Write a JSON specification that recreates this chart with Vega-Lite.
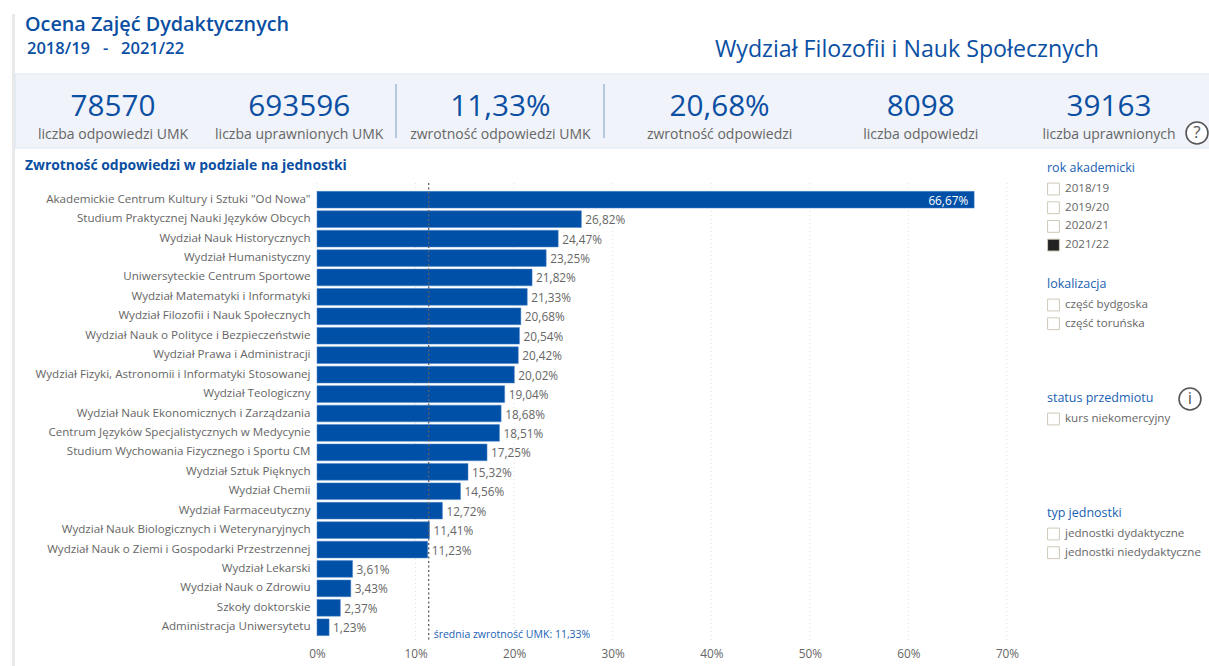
{
"$schema":"https://vega.github.io/schema/vega-lite/v6.json",
"width":1209,"height":666,"padding":0,"autosize":"none","background":"white",
"config":{"font":"Open Sans","view":{"stroke":null},"text":{"font":"Open Sans"},"legend":{"orient":"none"}},
"resolve":{"scale":{"x":"independent","y":"independent","fill":"independent"},"axis":{"x":"independent","y":"independent"},"legend":{"fill":"independent"}},
"layer":[
{"data":{"values":[{"zone":"strip"}]},"mark":{"type":"rect","fill":"#e9e9e9"},
 "encoding":{"x":{"datum":0,"type":"quantitative","axis":null,"scale":{"domain":[0,1],"range":[12,15],"zero":false,"nice":false}},"x2":{"datum":1},
 "y":{"datum":0,"type":"quantitative","axis":null,"scale":{"domain":[0,1],"range":[14,666],"zero":false,"nice":false}},"y2":{"datum":1}}},
{"data":{"values":[{"zone":"kpi"}]},"mark":{"type":"rect","fill":"#f0f3f9","stroke":"#dce6f3","strokeWidth":1},
 "encoding":{"x":{"datum":0,"type":"quantitative","axis":null,"scale":{"domain":[0,1],"range":[15,1212],"zero":false,"nice":false}},"x2":{"datum":1},
 "y":{"datum":0,"type":"quantitative","axis":null,"scale":{"domain":[0,1],"range":[74,148],"zero":false,"nice":false}},"y2":{"datum":1}}},
{"data":{"values":[{"sep":"umk"},{"sep":"wydzial"}]},"mark":{"type":"rule","stroke":"#7c9fca","strokeWidth":1},
 "encoding":{"x":{"field":"sep","type":"nominal","axis":null,"scale":{"type":"point","domain":["umk","wydzial"],"range":[396,604],"padding":0}},
 "y":{"datum":0,"type":"quantitative","axis":null,"scale":{"domain":[0,1],"range":[84,138],"zero":false,"nice":false}},"y2":{"datum":1}}},
{"data":{"values":[{"t":"Ocena Zajęć Dydaktycznych"}]},"mark":{"type":"text","align":"left","baseline":"middle","fontSize":19.8,"fontWeight":600,"color":"#0b4fa3"},
 "encoding":{"text":{"field":"t"},"x":{"field":"t","type":"nominal","axis":null,"scale":{"range":[25,25],"padding":0}},"y":{"field":"t","type":"nominal","axis":null,"scale":{"range":[25,25],"padding":0}}}},
{"data":{"values":[{"t":"2018/19\u00a0\u00a0 - \u00a0\u00a02021/22"}]},"mark":{"type":"text","align":"left","baseline":"middle","fontSize":16.5,"fontWeight":600,"color":"#0b4fa3"},
 "encoding":{"text":{"field":"t"},"x":{"field":"t","type":"nominal","axis":null,"scale":{"range":[27,27],"padding":0}},"y":{"field":"t","type":"nominal","axis":null,"scale":{"range":[48.5,48.5],"padding":0}}}},
{"data":{"values":[{"t":"Wydział Filozofii i Nauk Społecznych"}]},"mark":{"type":"text","align":"center","baseline":"middle","fontSize":23.2,"color":"#0b4fa3"},
 "encoding":{"text":{"field":"t"},"x":{"field":"t","type":"nominal","axis":null,"scale":{"range":[907,907],"padding":0}},"y":{"field":"t","type":"nominal","axis":null,"scale":{"range":[50,50],"padding":0}}}},
{"data":{"values":[{"t":"Zwrotność odpowiedzi w podziale na jednostki"}]},"mark":{"type":"text","align":"left","baseline":"middle","fontSize":13.9,"fontWeight":700,"color":"#0b4fa3"},
 "encoding":{"text":{"field":"t"},"x":{"field":"t","type":"nominal","axis":null,"scale":{"range":[25,25],"padding":0}},"y":{"field":"t","type":"nominal","axis":null,"scale":{"range":[166,166],"padding":0}}}},
{"data":{"values":[
 {"kpi":"liczba odpowiedzi UMK","value":"78570"},{"kpi":"liczba uprawnionych UMK","value":"693596"},{"kpi":"zwrotność odpowiedzi UMK","value":"11,33%"},
 {"kpi":"zwrotność odpowiedzi","value":"20,68%"},{"kpi":"liczba odpowiedzi","value":"8098"},{"kpi":"liczba uprawnionych","value":"39163"}]},
 "layer":[
 {"mark":{"type":"text","align":"center","baseline":"middle","fontSize":29.7,"color":"#0b4fa3","dx":{"expr":"datum.kpi=='liczba uprawnionych UMK'?-13:datum.kpi=='zwrotność odpowiedzi UMK'?-11:datum.kpi=='zwrotność odpowiedzi'?9:datum.kpi=='liczba odpowiedzi'?11:0"}},
  "encoding":{"text":{"field":"value"},"y":{"datum":"value","type":"nominal"}}},
 {"mark":{"type":"text","align":"center","baseline":"middle","fontSize":14,"color":"#666666","dx":{"expr":"datum.kpi=='liczba uprawnionych UMK'?-13:datum.kpi=='zwrotność odpowiedzi UMK'?-11:datum.kpi=='zwrotność odpowiedzi'?9:datum.kpi=='liczba odpowiedzi'?11:0"}},
  "encoding":{"text":{"field":"kpi"},"y":{"datum":"caption","type":"nominal"}}}],
 "encoding":{"x":{"field":"kpi","type":"nominal","sort":null,"axis":null,"scale":{"range":[113,1109],"padding":0}},
  "y":{"type":"nominal","axis":null,"scale":{"domain":["value","caption"],"range":[106.5,135],"padding":0}}}},
{"data":{"values":[{"tick":0},{"tick":10},{"tick":20},{"tick":30},{"tick":40},{"tick":50},{"tick":60},{"tick":70}]},
 "mark":{"type":"rule","stroke":"#e2e2e2","strokeWidth":1,"strokeDash":[1,3]},
 "encoding":{"x":{"field":"tick","type":"quantitative","axis":null,"scale":{"domain":[0,70],"range":[317,1007],"nice":false,"zero":true}},
  "y":{"datum":0,"type":"quantitative","axis":null,"scale":{"domain":[0,1],"range":[183,640],"zero":false,"nice":false}},"y2":{"datum":1}}},
{"data":{"values":[
 {"unit":"Akademickie Centrum Kultury i Sztuki \"Od Nowa\"","value":66.67,"label":"66,67%"},
 {"unit":"Studium Praktycznej Nauki Języków Obcych","value":26.82,"label":"26,82%"},
 {"unit":"Wydział Nauk Historycznych","value":24.47,"label":"24,47%"},
 {"unit":"Wydział Humanistyczny","value":23.25,"label":"23,25%"},
 {"unit":"Uniwersyteckie Centrum Sportowe","value":21.82,"label":"21,82%"},
 {"unit":"Wydział Matematyki i Informatyki","value":21.33,"label":"21,33%"},
 {"unit":"Wydział Filozofii i Nauk Społecznych","value":20.68,"label":"20,68%"},
 {"unit":"Wydział Nauk o Polityce i Bezpieczeństwie","value":20.54,"label":"20,54%"},
 {"unit":"Wydział Prawa i Administracji","value":20.42,"label":"20,42%"},
 {"unit":"Wydział Fizyki, Astronomii i Informatyki Stosowanej","value":20.02,"label":"20,02%"},
 {"unit":"Wydział Teologiczny","value":19.04,"label":"19,04%"},
 {"unit":"Wydział Nauk Ekonomicznych i Zarządzania","value":18.68,"label":"18,68%"},
 {"unit":"Centrum Języków Specjalistycznych w Medycynie","value":18.51,"label":"18,51%"},
 {"unit":"Studium Wychowania Fizycznego i Sportu CM","value":17.25,"label":"17,25%"},
 {"unit":"Wydział Sztuk Pięknych","value":15.32,"label":"15,32%"},
 {"unit":"Wydział Chemii","value":14.56,"label":"14,56%"},
 {"unit":"Wydział Farmaceutyczny","value":12.72,"label":"12,72%"},
 {"unit":"Wydział Nauk Biologicznych i Weterynaryjnych","value":11.41,"label":"11,41%"},
 {"unit":"Wydział Nauk o Ziemi i Gospodarki Przestrzennej","value":11.23,"label":"11,23%"},
 {"unit":"Wydział Lekarski","value":3.61,"label":"3,61%"},
 {"unit":"Wydział Nauk o Zdrowiu","value":3.43,"label":"3,43%"},
 {"unit":"Szkoły doktorskie","value":2.37,"label":"2,37%"},
 {"unit":"Administracja Uniwersytetu","value":1.23,"label":"1,23%"}]},
 "encoding":{
  "x":{"field":"value","type":"quantitative","scale":{"domain":[0,70],"range":[317,1007],"nice":false,"zero":true},
   "axis":{"title":null,"values":[0,10,20,30,40,50,60,70],"labelExpr":"datum.value+'%'","orient":"bottom","offset":-13,"labelPadding":0,"labelFlush":false,"ticks":false,"domain":false,"grid":false,"labelFontSize":11.8,"labelColor":"#666666","labelFont":"Open Sans","labelBaseline":"middle"}},
  "y":{"field":"unit","type":"nominal","sort":null,"scale":{"range":[190,637],"paddingInner":0.14,"paddingOuter":0.07},
   "axis":{"title":null,"orient":"left","offset":-310,"labelPadding":0,"ticks":false,"domain":false,"grid":false,"labelFontSize":11.6,"labelColor":"#666666","labelFont":"Open Sans","labelLimit":320}}},
 "layer":[
  {"mark":{"type":"bar","fill":"#0050a8","stroke":"#4f86c6","strokeWidth":0.5}},
  {"mark":{"type":"text","baseline":"middle","fontSize":11.8,"dy":1,"align":{"expr":"datum.value>60?'right':'left'"},"dx":{"expr":"datum.value>60?-6:4"}},
   "encoding":{"text":{"field":"label"},"color":{"condition":{"test":"datum.value>60","value":"white"},"value":"#666666"}}}]},
{"data":{"values":[{"mean":11.33,"note":"średnia zwrotność UMK: 11,33%"}]},
 "encoding":{"x":{"field":"mean","type":"quantitative","axis":null,"scale":{"domain":[0,70],"range":[317,1007],"nice":false}}},
 "layer":[
  {"mark":{"type":"rule","stroke":"#5f5f5f","strokeWidth":1.3,"strokeDash":[2,2.5]},
   "encoding":{"y":{"datum":0,"type":"quantitative","axis":null,"scale":{"domain":[0,1],"range":[183,640],"zero":false,"nice":false}},"y2":{"datum":1}}},
  {"mark":{"type":"text","align":"left","baseline":"middle","dx":5,"fontSize":10.5,"color":"#1a5fb4"},
   "encoding":{"text":{"field":"note"},"y":{"field":"note","type":"nominal","axis":null,"scale":{"range":[635,635],"padding":0}}}}]},
{"data":{"values":[{"icon":"?"},{"icon":"i"}]},
 "encoding":{"x":{"field":"icon","type":"nominal","axis":null,"scale":{"domain":["?","i"],"range":[1197,1190],"padding":0}},
  "y":{"field":"icon","type":"nominal","axis":null,"scale":{"domain":["?","i"],"range":[133,399],"padding":0}}},
 "layer":[
  {"mark":{"type":"point","shape":"circle","size":480,"stroke":"#555555","strokeWidth":1.6,"fill":"white","opacity":1}},
  {"mark":{"type":"text","align":"center","baseline":"middle","fontSize":17,"color":"#555555"},"encoding":{"text":{"field":"icon"}}}]},
{"data":{"values":[{"rok":"2018/19"},{"rok":"2019/20"},{"rok":"2020/21"},{"rok":"2021/22"}]},
 "mark":{"type":"point","size":0,"filled":true},
 "encoding":{"fill":{"field":"rok","type":"nominal","scale":{"domain":["2018/19","2019/20","2020/21","2021/22"],"range":["#ffffff","#ffffff","#ffffff","#222222"]},
  "legend":{"orient":"none","legendX":1047,"legendY":162,"title":"rok akademicki","titleColor":"#1a5fb4","titleFontSize":12.5,"titleFontWeight":"normal","titlePadding":8,"symbolType":"square","symbolSize":140,"symbolStrokeColor":"#cfc9b8","symbolStrokeWidth":1,"symbolOpacity":1,"labelFontSize":11.6,"labelColor":"#666666","labelOffset":5,"rowPadding":1.7,"padding":0}}}},
{"data":{"values":[{"lokalizacja":"część bydgoska"},{"lokalizacja":"część toruńska"}]},
 "mark":{"type":"point","size":0,"filled":true},
 "encoding":{"fill":{"field":"lokalizacja","type":"nominal","scale":{"domain":["część bydgoska","część toruńska"],"range":["#ffffff","#ffffff"]},
  "legend":{"orient":"none","legendX":1047,"legendY":278,"title":"lokalizacja","titleColor":"#1a5fb4","titleFontSize":12.5,"titleFontWeight":"normal","titlePadding":8,"symbolType":"square","symbolSize":140,"symbolStrokeColor":"#cfc9b8","symbolStrokeWidth":1,"symbolOpacity":1,"labelFontSize":11.6,"labelColor":"#666666","labelOffset":5,"rowPadding":1.7,"padding":0}}}},
{"data":{"values":[{"status":"kurs niekomercyjny"}]},
 "mark":{"type":"point","size":0,"filled":true},
 "encoding":{"fill":{"field":"status","type":"nominal","scale":{"domain":["kurs niekomercyjny"],"range":["#ffffff"]},
  "legend":{"orient":"none","legendX":1047,"legendY":392,"title":"status przedmiotu","titleColor":"#1a5fb4","titleFontSize":12.5,"titleFontWeight":"normal","titlePadding":8,"symbolType":"square","symbolSize":140,"symbolStrokeColor":"#cfc9b8","symbolStrokeWidth":1,"symbolOpacity":1,"labelFontSize":11.6,"labelColor":"#666666","labelOffset":5,"rowPadding":1.7,"padding":0}}}},
{"data":{"values":[{"typ":"jednostki dydaktyczne"},{"typ":"jednostki niedydaktyczne"}]},
 "mark":{"type":"point","size":0,"filled":true},
 "encoding":{"fill":{"field":"typ","type":"nominal","scale":{"domain":["jednostki dydaktyczne","jednostki niedydaktyczne"],"range":["#ffffff","#ffffff"]},
  "legend":{"orient":"none","legendX":1047,"legendY":507,"title":"typ jednostki","titleColor":"#1a5fb4","titleFontSize":12.5,"titleFontWeight":"normal","titlePadding":8,"symbolType":"square","symbolSize":140,"symbolStrokeColor":"#cfc9b8","symbolStrokeWidth":1,"symbolOpacity":1,"labelFontSize":11.6,"labelColor":"#666666","labelOffset":5,"rowPadding":1.7,"padding":0,"labelLimit":200}}}}
]
}
